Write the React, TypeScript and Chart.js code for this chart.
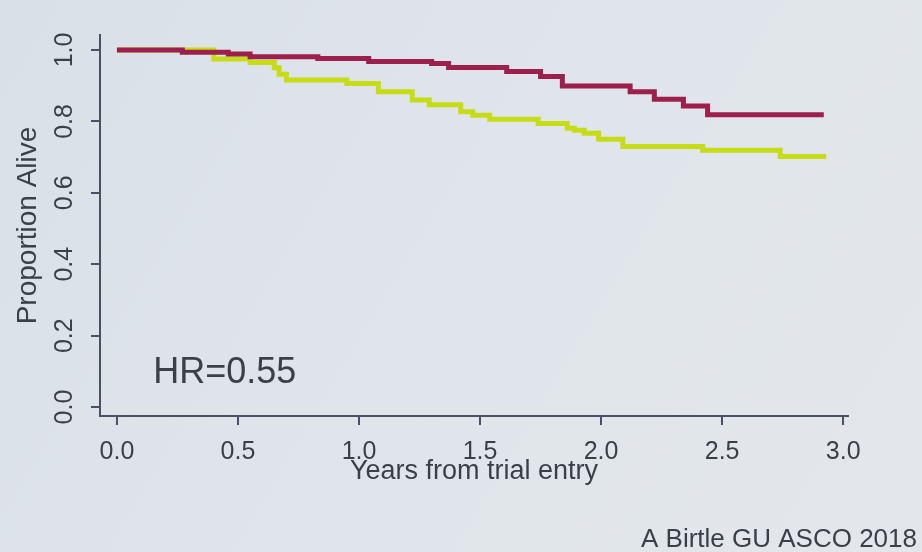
import React, { useEffect, useRef } from "react";
import { Chart, registerables } from "chart.js";

Chart.register(...registerables);

// Kaplan-Meier step data (time in years, proportion alive)
const redTimes = [0, 0.27, 0.46, 0.55, 0.83, 1.04, 1.3, 1.37, 1.61, 1.75, 1.84, 2.12, 2.22, 2.34, 2.44, 2.92];
const redSurv = [1.0, 0.994, 0.989, 0.981, 0.976, 0.968, 0.962, 0.951, 0.94, 0.926, 0.899, 0.883, 0.862, 0.843, 0.819, 0.819];

const yellowTimes = [0, 0.4, 0.55, 0.65, 0.67, 0.7, 0.95, 1.08, 1.22, 1.29, 1.42, 1.47, 1.54, 1.74, 1.86, 1.89, 1.93, 1.99, 2.09, 2.42, 2.74, 2.93];
const yellowSurv = [1.0, 0.975, 0.965, 0.95, 0.932, 0.916, 0.906, 0.883, 0.86, 0.847, 0.827, 0.817, 0.806, 0.794, 0.781, 0.775, 0.767, 0.75, 0.73, 0.719, 0.702, 0.702];

const xTicks = [0, 0.5, 1.0, 1.5, 2.0, 2.5, 3.0];
const yTicks = [0, 0.2, 0.4, 0.6, 0.8, 1.0];

const xTitle = "Years from trial entry";
const yTitle = "Proportion Alive";
const hrLabel = "HR=0.55";
const hrX = 0.15;
const hrY = 0.095;
const footer = "A Birtle GU ASCO 2018";

const FONT = "'Liberation Sans', Arial, Helvetica, sans-serif";
const AXIS_COLOR = "#4b5066";
const TEXT_COLOR = "#3b3f47";

export default function App() {
  const ref = useRef<HTMLCanvasElement | null>(null);

  useEffect(() => {
    if (!ref.current) return;

    const bgPlugin = {
      id: "bg",
      beforeDraw(chart: any) {
        const { ctx, width, height } = chart;
        ctx.save();
        const g = ctx.createLinearGradient(0, 0, width, height);
        g.addColorStop(0, "#d9e0e7");
        g.addColorStop(0.5, "#e0e5eb");
        g.addColorStop(1, "#e3e7eb");
        ctx.fillStyle = g;
        ctx.fillRect(0, 0, width, height);
        ctx.restore();
      },
    };

    const textPlugin = {
      id: "texts",
      afterDraw(chart: any) {
        const { ctx } = chart;
        const xs = chart.scales.x;
        const ys = chart.scales.y;
        ctx.save();
        ctx.fillStyle = TEXT_COLOR;
        ctx.font = `36px ${FONT}`;
        ctx.textAlign = "left";
        ctx.textBaseline = "middle";
        ctx.fillText(hrLabel, xs.getPixelForValue(hrX), ys.getPixelForValue(hrY));
        ctx.font = `26px ${FONT}`;
        ctx.textAlign = "right";
        ctx.textBaseline = "alphabetic";
        ctx.fillText(footer, 917, 547);
        ctx.restore();
      },
    };

    const chart = new Chart(ref.current, {
      type: "line",
      data: {
        datasets: [
          {
            label: "Arm 1",
            data: redTimes.map((t, i) => ({ x: t, y: redSurv[i] })),
            borderColor: "#9c1f4c",
            borderWidth: 5,
            stepped: "before",
            pointRadius: 0,
            fill: false,
            borderJoinStyle: "miter",
          },
          {
            label: "Arm 2",
            data: yellowTimes.map((t, i) => ({ x: t, y: yellowSurv[i] })),
            borderColor: "#c6dc16",
            borderWidth: 5,
            stepped: "before",
            pointRadius: 0,
            fill: false,
            borderJoinStyle: "miter",
          },
        ],
      },
      options: {
        animation: false,
        responsive: true,
        maintainAspectRatio: false,
        layout: { padding: { left: 11, top: 35, right: 74, bottom: 64 } },
        plugins: { legend: { display: false }, tooltip: { enabled: false } },
        scales: {
          x: {
            type: "linear",
            min: -0.07,
            max: 3.02,
            afterBuildTicks: (s: any) => {
              s.ticks = xTicks.map((v) => ({ value: v }));
            },
            afterFit: (s: any) => {
              s.height = 72;
            },
            grid: {
              display: true,
              drawOnChartArea: false,
              drawTicks: true,
              tickLength: 9,
              color: AXIS_COLOR,
              lineWidth: 2,
            },
            border: { display: true, color: AXIS_COLOR, width: 2 },
            ticks: {
              color: TEXT_COLOR,
              font: { family: FONT, size: 25 },
              padding: 12,
              maxRotation: 0,
              minRotation: 0,
              callback: (v: any) => Number(v).toFixed(1),
            },
            title: {
              display: true,
              text: xTitle,
              color: TEXT_COLOR,
              font: { family: FONT, size: 27 },
              padding: 0,
            },
          },
          y: {
            type: "linear",
            min: -0.025,
            max: 1.042,
            afterBuildTicks: (s: any) => {
              s.ticks = yTicks.map((v) => ({ value: v }));
            },
            afterFit: (s: any) => {
              s.width = 89;
            },
            grid: {
              display: true,
              drawOnChartArea: false,
              drawTicks: true,
              tickLength: 9,
              color: AXIS_COLOR,
              lineWidth: 2,
            },
            border: { display: true, color: AXIS_COLOR, width: 2 },
            ticks: {
              color: TEXT_COLOR,
              font: { family: FONT, size: 25 },
              padding: 9,
              minRotation: 90,
              maxRotation: 90,
              crossAlign: "center",
              callback: (v: any) => Number(v).toFixed(1),
            },
            title: {
              display: true,
              text: yTitle,
              color: TEXT_COLOR,
              font: { family: FONT, size: 28 },
              padding: 0,
            },
          },
        },
      },
      plugins: [bgPlugin, textPlugin],
    } as any);

    return () => chart.destroy();
  }, []);

  return (
    <div style={{ position: "fixed", left: 0, top: 0, width: 922, height: 552 }}>
      <canvas ref={ref} />
    </div>
  );
}
